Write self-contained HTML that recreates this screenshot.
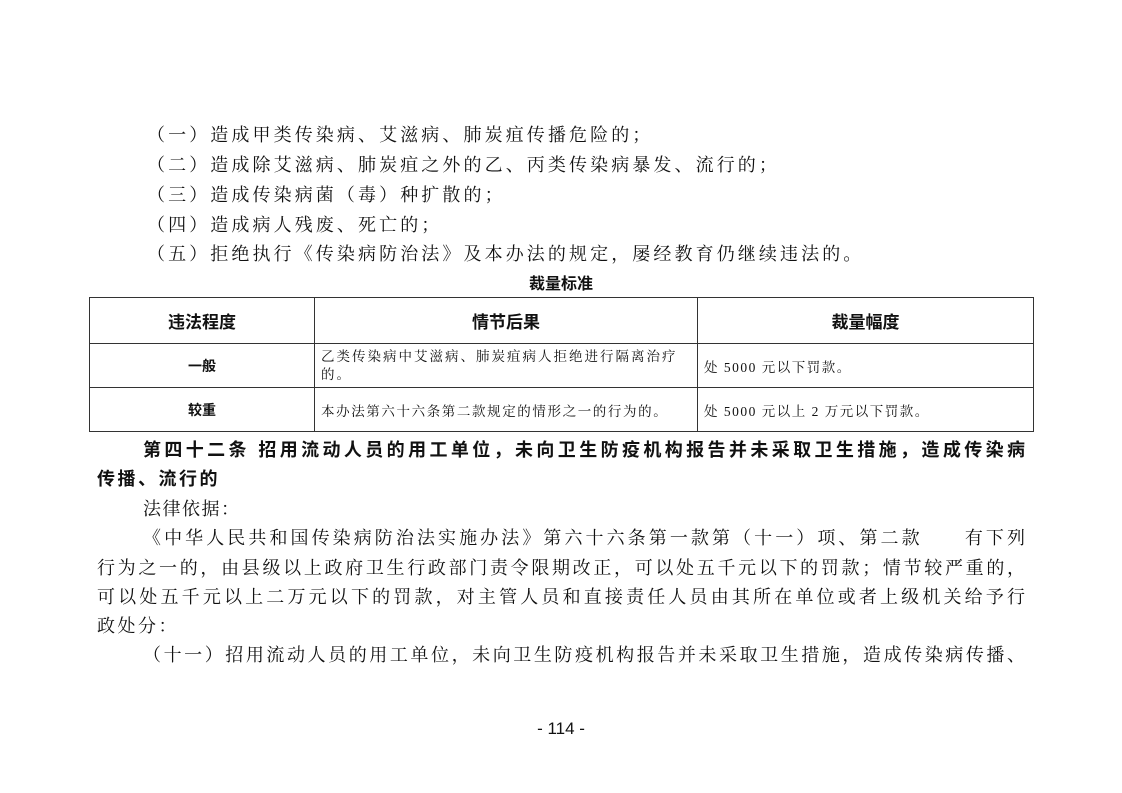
<!DOCTYPE html>
<html><head><meta charset="utf-8"><style>
body{margin:0;width:1122px;height:793px;background:#fff;position:relative;overflow:hidden;font-family:"Liberation Serif","Noto Serif CJK SC","Noto Sans CJK SC",serif;color:#111}
.l{position:absolute;white-space:nowrap;font-size:18px;line-height:22px}
.j{position:absolute;font-size:18px;line-height:22px;text-align:justify;text-align-last:justify;white-space:nowrap}
.b{font-family:"Liberation Sans","Noto Sans CJK SC",sans-serif;font-weight:bold}
table{position:absolute;left:89px;top:297px;border-collapse:collapse;font-size:13.5px}
td{border:1.5px solid #333;padding:0 6px;vertical-align:middle}
.h{font-family:"Liberation Sans","Noto Sans CJK SC",sans-serif;font-weight:bold;font-size:17px;text-align:center}
.c{font-family:"Liberation Sans","Noto Sans CJK SC",sans-serif;font-weight:bold;font-size:14px;text-align:center}
</style></head><body>
<div class="l" style="left:147px;top:124px;letter-spacing:3.1px">（一）造成甲类传染病、艾滋病、肺炭疽传播危险的；</div>
<div class="l" style="left:147px;top:154px;letter-spacing:3.1px">（二）造成除艾滋病、肺炭疽之外的乙、丙类传染病暴发、流行的；</div>
<div class="l" style="left:147px;top:184px;letter-spacing:3.1px">（三）造成传染病菌（毒）种扩散的；</div>
<div class="l" style="left:147px;top:214px;letter-spacing:3.1px">（四）造成病人残废、死亡的；</div>
<div class="l" style="left:147px;top:243px;letter-spacing:3.1px">（五）拒绝执行《传染病防治法》及本办法的规定，屡经教育仍继续违法的。</div>
<div class="l b" style="left:0;width:1122px;text-align:center;top:274px;font-size:16px">裁量标准</div>
<table>
<tr style="height:46px"><td class="h" style="width:212px">违法程度</td><td class="h" style="width:370px">情节后果</td><td class="h" style="width:323px">裁量幅度</td></tr>
<tr style="height:44px"><td class="c">一般</td><td style="line-height:18px;letter-spacing:2px">乙类传染病中艾滋病、肺炭疽病人拒绝进行隔离治疗的。</td><td style="letter-spacing:1.5px">处 5000 元以下罚款。</td></tr>
<tr style="height:44px"><td class="c">较重</td><td style="letter-spacing:1.6px">本办法第六十六条第二款规定的情形之一的行为的。</td><td style="letter-spacing:1.5px">处 5000 元以上 2 万元以下罚款。</td></tr>
</table>
<div class="j b" style="left:143px;width:882px;top:439px;font-size:18px">第四十二条 招用流动人员的用工单位，未向卫生防疫机构报告并未采取卫生措施，造成传染病</div>
<div class="l b" style="left:97px;top:468px;font-size:18px;letter-spacing:2.5px">传播、流行的</div>
<div class="l" style="left:143px;top:498px;letter-spacing:1.5px">法律依据：</div>
<div class="j" style="left:143px;width:882px;top:527px">《中华人民共和国传染病防治法实施办法》第六十六条第一款第（十一）项、第二款　　有下列</div>
<div class="j" style="left:97px;width:928px;top:557px">行为之一的，由县级以上政府卫生行政部门责令限期改正，可以处五千元以下的罚款；情节较严重的，</div>
<div class="j" style="left:97px;width:928px;top:586px">可以处五千元以上二万元以下的罚款，对主管人员和直接责任人员由其所在单位或者上级机关给予行</div>
<div class="l" style="left:97px;top:615px;letter-spacing:2.5px">政处分：</div>
<div class="j" style="left:143px;width:882px;top:644px">（十一）招用流动人员的用工单位，未向卫生防疫机构报告并未采取卫生措施，造成传染病传播、</div>
<div class="l" style="left:0;width:1122px;text-align:center;top:718px;font-size:17px;font-family:'Liberation Sans',sans-serif">- 114 -</div>
</body></html>
